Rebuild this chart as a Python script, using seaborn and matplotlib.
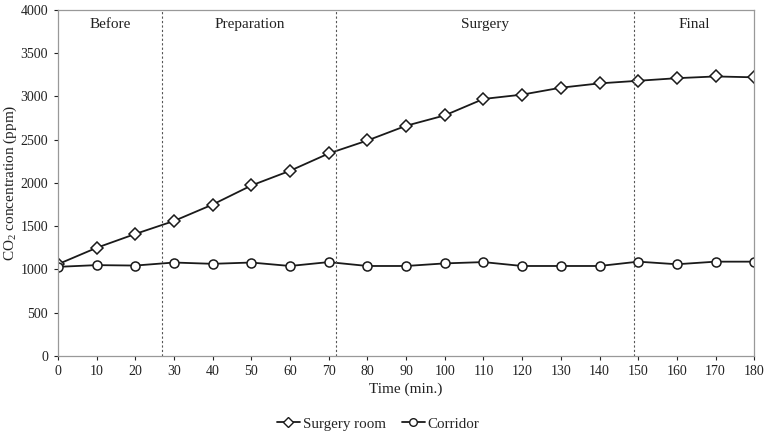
import numpy as np
import pandas as pd
import matplotlib
matplotlib.use("Agg")
import matplotlib.pyplot as plt
import seaborn as sns
from matplotlib.lines import Line2D

time = list(range(0, 181, 10))
surgery_room = [1060, 1250, 1410, 1560, 1750, 1970, 2140, 2340, 2490, 2660,
                2780, 2970, 3020, 3100, 3150, 3180, 3210, 3230, 3220]
corridor = [1030, 1050, 1045, 1080, 1065, 1080, 1040, 1085, 1040, 1040,
            1070, 1085, 1040, 1040, 1040, 1090, 1060, 1090, 1090]
series_names = ["Surgery room", "Corridor"]
phase_bounds = [27, 72, 149]
phase_labels = ["Before", "Preparation", "Surgery", "Final"]
phase_label_x = [13.5, 49.5, 110.5, 164.5]

df = pd.DataFrame({
    "Time": time * 2,
    "CO2": surgery_room + corridor,
    "Series": [series_names[0]] * len(time) + [series_names[1]] * len(time),
})

sns.set_theme(style="white")
plt.rcParams["font.family"] = ["Liberation Serif", "DejaVu Serif"]
plt.rcParams["mathtext.fontset"] = "custom"
plt.rcParams["mathtext.rm"] = "Liberation Serif"

fig = plt.figure(figsize=(7.72, 4.36), dpi=100)
ax = fig.add_axes([0.075, 0.1835, 0.902, 0.794])

sns.lineplot(data=df, x="Time", y="CO2", hue="Series", style="Series",
             markers={"Surgery room": "D", "Corridor": "o"},
             dashes=False, palette={"Surgery room": "#1a1a1a", "Corridor": "#1a1a1a"},
             markersize=6.5, markerfacecolor="white", markeredgecolor="#1a1a1a",
             markeredgewidth=1.1, linewidth=1.3, ax=ax, legend=False)

for b in phase_bounds:
    ax.axvline(b, color="#555555", linestyle=(0, (2, 2)), linewidth=0.8)
for lx, lab in zip(phase_label_x, phase_labels):
    ax.text(lx, 3830, lab, ha="center", va="center", fontsize=11, color="#222222")

ax.set_xlim(0, 180)
ax.set_ylim(0, 4000)
ax.set_xticks(range(0, 181, 10))
ax.set_yticks(range(0, 4001, 500))
ax.tick_params(axis="both", labelsize=10, colors="#222222", length=3, direction="out",
               bottom=True, left=True, width=0.8)
ax.tick_params(axis="y", pad=4)
ax.set_xlabel("Time (min.)", fontsize=11, color="#222222", labelpad=3)
ax.set_ylabel(r"CO$_2$ concentration (ppm)", fontsize=11, color="#222222", labelpad=1)
for s in ax.spines.values():
    s.set_color("#999999")
    s.set_linewidth(0.9)

handles = [Line2D([], [], color="#1a1a1a", marker="D", markerfacecolor="white",
                  markeredgecolor="#1a1a1a", markersize=5, linewidth=1.3),
           Line2D([], [], color="#1a1a1a", marker="o", markerfacecolor="white",
                  markeredgecolor="#1a1a1a", markersize=5.5, linewidth=1.3)]
fig.legend(handles, series_names, loc="center", bbox_to_anchor=(0.49, 0.028), ncol=2,
           frameon=False, fontsize=10.8, handlelength=1.5, columnspacing=1.1,
           handletextpad=0.2)

fig.savefig("out.png", dpi=100)
